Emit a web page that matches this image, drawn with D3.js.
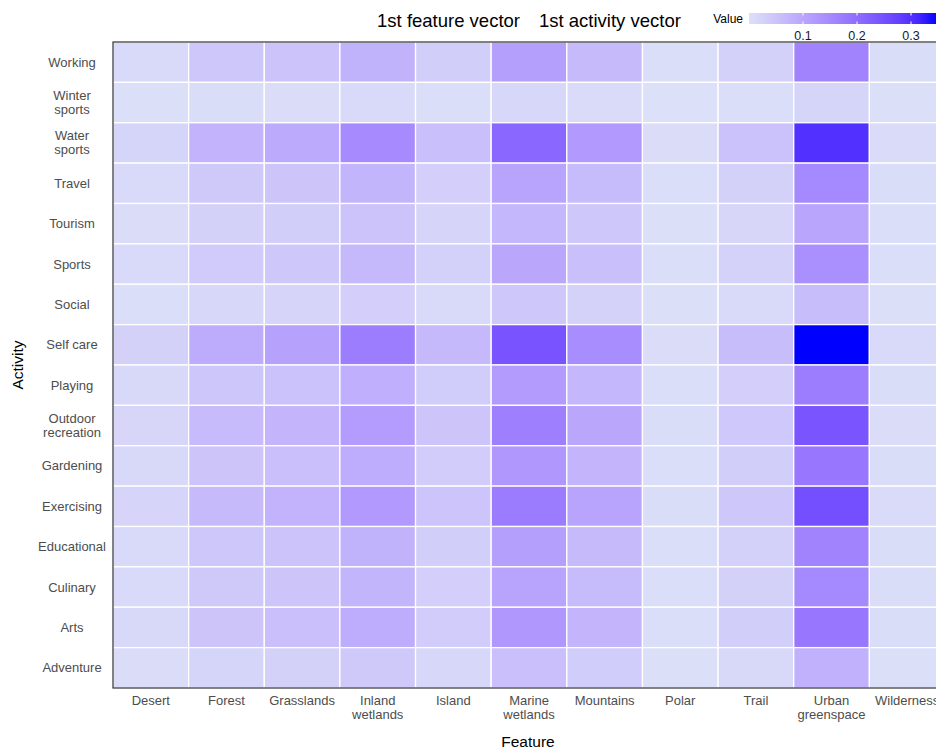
<!DOCTYPE html>
<html>
<head>
<meta charset="utf-8">
<script src="https://cdn.jsdelivr.net/npm/d3@7"></script>
<style>
  body { margin: 0; background: #fff; overflow: hidden; }
  svg { font-family: "Liberation Sans", Arial, sans-serif; display: block; }
</style>
</head>
<body>
<div id="chart"></div>
<script>
// categories
var features = ["Desert", "Forest", "Grasslands", "Inland wetlands", "Island",
  "Marine wetlands", "Mountains", "Polar", "Trail", "Urban greenspace", "Wilderness"];

// top to bottom
var activities = ["Working", "Winter sports", "Water sports", "Travel", "Tourism",
  "Sports", "Social", "Self care", "Playing", "Outdoor recreation", "Gardening",
  "Exercising", "Educational", "Culinary", "Arts", "Adventure"];

// values, one row per activity, columns follow features
var values = [
  [0.011, 0.042, 0.050, 0.079, 0.031, 0.113, 0.066, 0.003, 0.027, 0.161, 0.005],
  [0.001, 0.005, 0.007, 0.010, 0.004, 0.015, 0.009, 0.000, 0.004, 0.021, 0.001],
  [0.021, 0.078, 0.093, 0.147, 0.057, 0.211, 0.123, 0.006, 0.051, 0.301, 0.009],
  [0.011, 0.039, 0.047, 0.074, 0.029, 0.105, 0.062, 0.003, 0.026, 0.151, 0.005],
  [0.007, 0.026, 0.031, 0.050, 0.019, 0.071, 0.042, 0.002, 0.017, 0.102, 0.003],
  [0.010, 0.036, 0.043, 0.069, 0.027, 0.098, 0.057, 0.003, 0.024, 0.140, 0.004],
  [0.004, 0.015, 0.018, 0.029, 0.011, 0.042, 0.024, 0.001, 0.010, 0.060, 0.002],
  [0.025, 0.091, 0.109, 0.172, 0.067, 0.245, 0.144, 0.007, 0.060, 0.350, 0.011],
  [0.012, 0.045, 0.053, 0.084, 0.033, 0.120, 0.070, 0.003, 0.029, 0.172, 0.005],
  [0.017, 0.063, 0.075, 0.118, 0.046, 0.169, 0.099, 0.005, 0.041, 0.242, 0.007],
  [0.013, 0.047, 0.056, 0.089, 0.035, 0.127, 0.075, 0.004, 0.031, 0.182, 0.005],
  [0.018, 0.066, 0.078, 0.123, 0.048, 0.176, 0.103, 0.005, 0.043, 0.252, 0.008],
  [0.011, 0.042, 0.050, 0.079, 0.031, 0.113, 0.066, 0.003, 0.027, 0.161, 0.005],
  [0.011, 0.039, 0.047, 0.074, 0.029, 0.105, 0.062, 0.003, 0.026, 0.151, 0.005],
  [0.013, 0.047, 0.056, 0.089, 0.035, 0.127, 0.075, 0.004, 0.031, 0.182, 0.005],
  [0.006, 0.021, 0.025, 0.039, 0.015, 0.056, 0.033, 0.002, 0.014, 0.081, 0.002]
];

var legendTicks = [0.1, 0.2, 0.3];

// plot runs past the right edge of the window, like the reference
var margins = { left: 113, top: 42, right: 0, bottom: 61 };
var dim = { width: 832, height: 646 };

var svg = d3.select("#chart")
  .append("svg")
  .attr("width", 960)
  .attr("height", 749);

var g = svg.append("g")
  .attr("transform", "translate(" + margins.left + "," + margins.top + ")");

var x = d3.scaleBand().domain(features).range([0, dim.width]);
var y = d3.scaleBand().domain(activities).range([0, dim.height]);

var color = d3.scaleLinear()
  .domain([0, 0.35])
  .range(["#dce0f8", "#0000ff"])
  .interpolate(d3.interpolateLab);

// flatten to cells
var cells = [];
values.forEach(function(row, i) {
  row.forEach(function(v, j) {
    cells.push({ activity: activities[i], feature: features[j], value: v });
  });
});

g.selectAll(".cell")
  .data(cells)
  .enter().append("rect")
  .attr("class", "cell")
  .attr("x", function(d) { return x(d.feature); })
  .attr("y", function(d) { return y(d.activity); })
  .attr("width", x.bandwidth())
  .attr("height", y.bandwidth())
  .attr("fill", function(d) { return color(d.value); })
  .attr("stroke", "#fff")
  .attr("stroke-width", 1.3);

// panel frame
g.append("rect")
  .attr("width", dim.width)
  .attr("height", dim.height)
  .attr("fill", "none")
  .attr("stroke", "#333")
  .attr("stroke-width", 1.2);

// y labels, split on the two-word names
function lines(s) {
  var parts = s.split(" ");
  if (parts.length == 2 && s != "Self care") return parts;
  return [s];
}

g.selectAll(".ylab")
  .data(activities)
  .enter().append("text")
  .attr("class", "ylab")
  .attr("text-anchor", "middle")
  .attr("fill", "#4d4d4d")
  .attr("font-size", 13)
  .each(function(d) {
    var l = lines(d);
    var cy = y(d) + y.bandwidth() / 2;
    var t = d3.select(this);
    l.forEach(function(s, k) {
      t.append("tspan")
        .attr("x", -41)
        .attr("y", cy + 4.5 + (k - (l.length - 1) / 2) * 14)
        .text(s);
    });
  });

g.selectAll(".xlab")
  .data(features)
  .enter().append("text")
  .attr("class", "xlab")
  .attr("text-anchor", "middle")
  .attr("fill", "#4d4d4d")
  .attr("font-size", 13)
  .each(function(d) {
    var l = lines(d);
    var t = d3.select(this);
    l.forEach(function(s, k) {
      t.append("tspan")
        .attr("x", x(d) + x.bandwidth() / 2)
        .attr("y", dim.height + 16.5 + k * 14)
        .text(s);
    });
  });

// axis titles
svg.append("text")
  .attr("x", 528)
  .attr("y", 747)
  .attr("text-anchor", "middle")
  .attr("font-size", 15.5)
  .text("Feature");

svg.append("text")
  .attr("transform", "translate(23,365) rotate(-90)")
  .attr("text-anchor", "middle")
  .attr("font-size", 15.5)
  .text("Activity");

// title, two pieces
svg.append("text")
  .attr("x", 520)
  .attr("y", 27)
  .attr("text-anchor", "end")
  .attr("font-size", 18.5)
  .text("1st feature vector");

svg.append("text")
  .attr("x", 539)
  .attr("y", 27)
  .attr("font-size", 18.5)
  .text("1st activity vector");

// legend
var lx = d3.scaleLinear().domain([0, 0.35]).range([749, 938]);
var defs = svg.append("defs");
var grad = defs.append("linearGradient").attr("id", "lg");
d3.range(0, 1.0001, 0.1).forEach(function(t) {
  grad.append("stop")
    .attr("offset", t)
    .attr("stop-color", color(t * 0.35));
});

svg.append("rect")
  .attr("x", lx(0))
  .attr("y", 13)
  .attr("width", lx(0.35) - lx(0))
  .attr("height", 11)
  .attr("fill", "url(#lg)");

legendTicks.forEach(function(v) {
  svg.append("line")
    .attr("x1", lx(v)).attr("x2", lx(v))
    .attr("y1", 13).attr("y2", 15.5)
    .attr("stroke", "#fff");
  svg.append("line")
    .attr("x1", lx(v)).attr("x2", lx(v))
    .attr("y1", 21.5).attr("y2", 24)
    .attr("stroke", "#fff");
  svg.append("text")
    .attr("x", lx(v))
    .attr("y", 39.5)
    .attr("text-anchor", "middle")
    .attr("font-size", 12.5)
    .attr("fill", "#1a1a1a")
    .text(v.toFixed(1));
});

svg.append("text")
  .attr("x", 743)
  .attr("y", 22.5)
  .attr("text-anchor", "end")
  .attr("font-size", 12)
  .text("Value");
</script>
</body>
</html>
